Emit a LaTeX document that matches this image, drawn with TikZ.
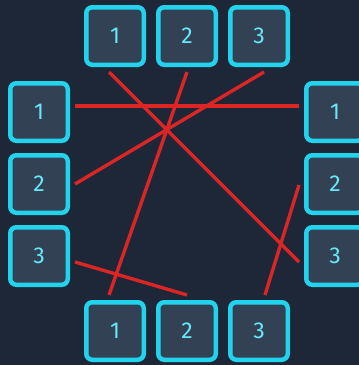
\documentclass[tikz,border=0pt]{standalone}
\usepackage{fontspec}
\setmainfont{Fira Sans}
\definecolor{bgnavy}{HTML}{1E2738}
\definecolor{boxslate}{HTML}{334155}
\definecolor{boxcyan}{HTML}{22D3EE}
\definecolor{numcyan}{HTML}{67E8F9}
\definecolor{wirered}{HTML}{DC2626}
\begin{document}
\begin{tikzpicture}[%
    x=1pt,
    y=-1pt,
    slot/.style={
      rectangle,
      draw=boxcyan,
      line width=4.5pt,
      fill=boxslate,
      text=numcyan,
      rounded corners=6pt,
      minimum width=57.5pt,
      minimum height=57.5pt,
      font=\fontsize{23}{26}\selectfont
    },
    wire/.style={
      draw=wirered,
      line width=3.4pt
    },
  ]
    \fill[bgnavy] (0,0) rectangle (359,365);
    \clip (0,0) rectangle (359,365);
    % top row
    \node[slot] (t1) at (115,36) {1};
    \node[slot] (t2) at (187,36) {2};
    \node[slot] (t3) at (259,36) {3};
    % left column
    \node[slot] (l1) at (39,112) {1};
    \node[slot] (l2) at (39,184) {2};
    \node[slot] (l3) at (39,256) {3};
    % right column
    \node[slot] (r1) at (335,112) {1};
    \node[slot] (r2) at (335,184) {2};
    \node[slot] (r3) at (335,256) {3};
    % bottom row
    \node[slot] (b1) at (115,331) {1};
    \node[slot] (b2) at (187,331) {2};
    \node[slot] (b3) at (259,331) {3};
    % connections
    \draw[wire] ([shift={(-6,5)}]t1.south) -- ([shift={(-5,6)}]r3.west);
    \draw[wire] ([shift={(0,5)}]t2.south) -- ([shift={(-6,-5)}]b1.north);
    \draw[wire] ([shift={(5,5)}]t3.south) -- ([shift={(5,0)}]l2.east);
    \draw[wire] ([shift={(5,-6)}]l1.east) -- ([shift={(-5,-6)}]r1.west);
    \draw[wire] ([shift={(5,6)}]l3.east) -- ([shift={(0,-5)}]b2.north);
    \draw[wire] ([shift={(6,-5)}]b3.north) -- ([shift={(-5,1)}]r2.west);
  \end{tikzpicture}
\end{document}
